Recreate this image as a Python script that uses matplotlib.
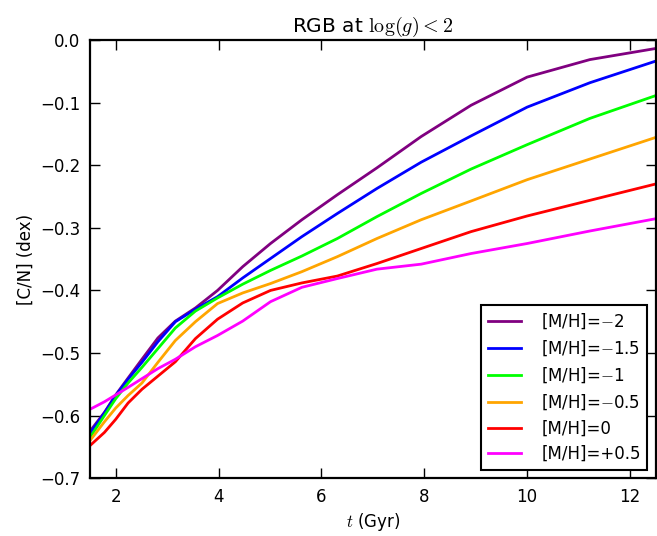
import matplotlib
matplotlib.use("Agg")
import matplotlib.pyplot as plt

plt.rcParams["mathtext.fontset"] = "cm"
plt.rcParams["font.family"] = "DejaVu Sans"

# ages (Gyr)
age = [1.5, 1.78, 2.0, 2.24, 2.51, 2.82, 3.16, 3.55, 3.98, 4.47,
       5.01, 5.62, 6.31, 7.08, 7.94, 8.91, 10.0, 11.22, 12.59]

cn_m20 = [-0.625, -0.595, -0.567, -0.540, -0.510, -0.476, -0.449, -0.428, -0.400, -0.362,
          -0.325, -0.287, -0.247, -0.204, -0.154, -0.104, -0.059, -0.031, -0.012]
cn_m15 = [-0.628, -0.596, -0.568, -0.542, -0.515, -0.482, -0.450, -0.430, -0.410, -0.380,
          -0.349, -0.314, -0.277, -0.237, -0.195, -0.153, -0.107, -0.068, -0.031]
cn_m10 = [-0.635, -0.600, -0.573, -0.548, -0.523, -0.493, -0.460, -0.433, -0.412, -0.390,
          -0.368, -0.345, -0.317, -0.282, -0.245, -0.206, -0.167, -0.125, -0.086]
cn_m05 = [-0.640, -0.610, -0.588, -0.568, -0.548, -0.515, -0.480, -0.450, -0.421, -0.404,
          -0.389, -0.370, -0.346, -0.317, -0.287, -0.257, -0.223, -0.190, -0.153]
cn_p00 = [-0.648, -0.627, -0.606, -0.580, -0.558, -0.537, -0.514, -0.477, -0.446, -0.420,
          -0.400, -0.388, -0.377, -0.357, -0.333, -0.306, -0.281, -0.256, -0.228]
cn_p05 = [-0.590, -0.578, -0.567, -0.555, -0.541, -0.525, -0.510, -0.490, -0.472, -0.449,
          -0.418, -0.395, -0.381, -0.366, -0.358, -0.341, -0.325, -0.305, -0.284]

labels = ["[M/H]=$-$2", "[M/H]=$-$1.5", "[M/H]=$-$1", "[M/H]=$-$0.5",
          "[M/H]=0", "[M/H]=+0.5"]
colors = ["#800080", "#0000ff", "#00ff00", "#ffa500", "#ff0000", "#ff00ff"]

fig = plt.figure(figsize=(6.57, 5.36), dpi=100)
ax = fig.add_axes([0.137, 0.108, 0.861, 0.817])

for series, label, color in zip([cn_m20, cn_m15, cn_m10, cn_m05, cn_p00, cn_p05], labels, colors):
    ax.plot(age, series, color=color, lw=2.0, label=label)

ax.set_xlim(1.5, 12.5)
ax.set_ylim(-0.7, 0.0)
ax.set_xticks([2, 4, 6, 8, 10, 12])
ax.set_yticks([-0.7, -0.6, -0.5, -0.4, -0.3, -0.2, -0.1, 0.0])
ax.tick_params(direction="in", top=True, right=True, length=7, width=1, labelsize=12, pad=7)
for side in ax.spines.values():
    side.set_linewidth(1.6)

ax.set_xlabel("$t$ (Gyr)", fontsize=12)
ax.set_ylabel("[C/N] (dex)", fontsize=12)
ax.set_title(r"RGB at $\log(g) < 2$", fontsize=14.5)

leg = ax.legend(loc="lower right", fontsize=12, fancybox=False, framealpha=1,
                edgecolor="black", handlelength=2.0, handletextpad=1.2,
                borderaxespad=0.5, labelspacing=0.45)
leg.get_frame().set_linewidth(1.5)

plt.savefig("out.png", dpi=100)
plt.close()
